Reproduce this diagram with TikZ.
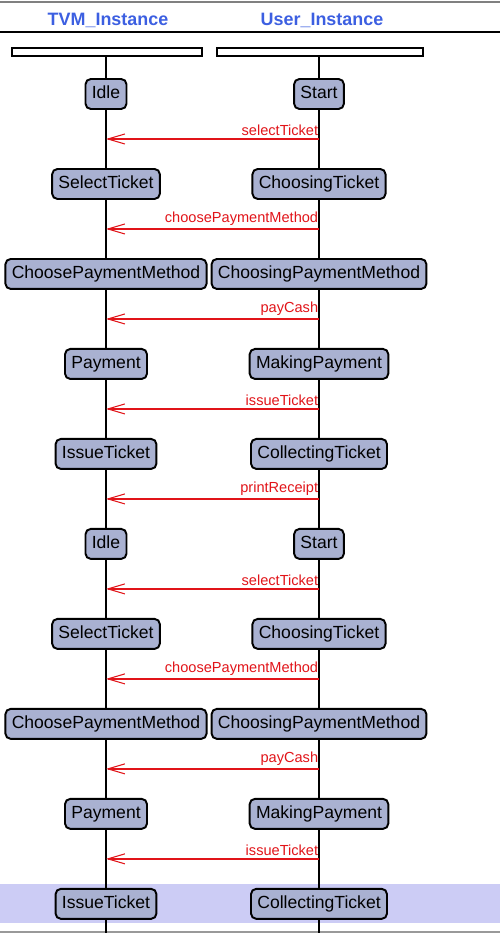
\documentclass[tikz,border=0pt]{standalone}
\usepackage{fontspec}
\setmainfont{Liberation Sans}
\usetikzlibrary{positioning,calc,arrows.meta}

\definecolor{statefill}{RGB}{169,177,209}
\definecolor{msgred}{RGB}{225,20,25}
\definecolor{headblue}{RGB}{60,95,225}
\definecolor{selband}{RGB}{204,204,245}

\tikzset{
  state/.style={draw, rounded corners=3pt, fill=statefill, line width=1.1pt,
    minimum height=0.6cm, inner xsep=3.6pt, text height=7.5pt, text depth=2pt,
    font=\fontsize{10}{12}\selectfont},
  headbox/.style={draw, fill=white, line width=1.1pt, minimum height=0.16cm, inner sep=0pt},
  header/.style={text=headblue, font=\fontsize{10.2}{12}\selectfont\bfseries},
  lifeline/.style={line width=1.1pt},
  msg/.style={draw=msgred, line width=1pt,
    -{Straight Barb[length=3.4mm,width=2mm,line width=0.6pt]}},
  msglabel/.style={text=msgred, font=\fontsize{8.3}{10}\selectfont,
    anchor=south east, inner xsep=0pt, inner ysep=1.5pt},
}

\begin{document}
\begin{tikzpicture}[x=0.02cm, y=-0.02cm, node distance=1.8cm, on grid]
 \useasboundingbox (0,0) rectangle (500,933);
 % frame
 \fill[selband] (0,884) rectangle (500,923);
 \draw[gray, line width=1pt] (0,2) -- (500,2);
 \draw[gray!80, line width=0.8pt] (0,932) -- (500,932);
 \draw[line width=0.7pt] (0,32) -- (500,32);
 \node[header] (tvmtitle) at (108,20) {TVM\_Instance};
 \node[header] (usertitle) at (322,20) {User\_Instance};
 \node[headbox, minimum width=3.8cm] (tvmhead) at (107,52) {};
 \node[headbox, minimum width=4.12cm] (userhead) at (320,52) {};
 \coordinate (tvmtop) at (106,56);
 \coordinate (usertop) at (319,56);
 \coordinate (tvmend) at (106,933);
 \coordinate (userend) at (319,933);
 \draw[lifeline] (tvmtop) -- (tvmend);
 \draw[lifeline] (usertop) -- (userend);
 %
 \node[state] (idle1) at (106,94) {Idle};
 \node[state, below=of idle1] (select1) {SelectTicket};
 \node[state, below=of select1] (choose1) {ChoosePaymentMethod};
 \node[state, below=of choose1] (payment1) {Payment};
 \node[state, below=of payment1] (issue1) {IssueTicket};
 \node[state, below=of issue1] (idle2) {Idle};
 \node[state, below=of idle2] (select2) {SelectTicket};
 \node[state, below=of select2] (choose2) {ChoosePaymentMethod};
 \node[state, below=of choose2] (payment2) {Payment};
 \node[state, below=of payment2] (issue2) {IssueTicket};
 %
 \node[state] (start1) at (idle1 -| usertop) {Start};
 \node[state] (choosing1) at (select1 -| usertop) {ChoosingTicket};
 \node[state] (choosingpay1) at (choose1 -| usertop) {ChoosingPaymentMethod};
 \node[state] (making1) at (payment1 -| usertop) {MakingPayment};
 \node[state] (collect1) at (issue1 -| usertop) {CollectingTicket};
 \node[state] (start2) at (idle2 -| usertop) {Start};
 \node[state] (choosing2) at (select2 -| usertop) {ChoosingTicket};
 \node[state] (choosingpay2) at (choose2 -| usertop) {ChoosingPaymentMethod};
 \node[state] (making2) at (payment2 -| usertop) {MakingPayment};
 \node[state] (collect2) at (issue2 -| usertop) {CollectingTicket};
 %
 \coordinate (m1) at ($(idle1)!0.5!(select1)$);
 \coordinate (m2) at ($(select1)!0.5!(choose1)$);
 \coordinate (m3) at ($(choose1)!0.5!(payment1)$);
 \coordinate (m4) at ($(payment1)!0.5!(issue1)$);
 \coordinate (m5) at ($(issue1)!0.5!(idle2)$);
 \coordinate (m6) at ($(idle2)!0.5!(select2)$);
 \coordinate (m7) at ($(select2)!0.5!(choose2)$);
 \coordinate (m8) at ($(choose2)!0.5!(payment2)$);
 \coordinate (m9) at ($(payment2)!0.5!(issue2)$);
 \draw[msg] (m1 -| usertop) -- node[msglabel, pos=0] {selectTicket} (m1);
 \draw[msg] (m2 -| usertop) -- node[msglabel, pos=0] {choosePaymentMethod} (m2);
 \draw[msg] (m3 -| usertop) -- node[msglabel, pos=0] {payCash} (m3);
 \draw[msg] (m4 -| usertop) -- node[msglabel, pos=0] {issueTicket} (m4);
 \draw[msg] (m5 -| usertop) -- node[msglabel, pos=0] {printReceipt} (m5);
 \draw[msg] (m6 -| usertop) -- node[msglabel, pos=0] {selectTicket} (m6);
 \draw[msg] (m7 -| usertop) -- node[msglabel, pos=0] {choosePaymentMethod} (m7);
 \draw[msg] (m8 -| usertop) -- node[msglabel, pos=0] {payCash} (m8);
 \draw[msg] (m9 -| usertop) -- node[msglabel, pos=0] {issueTicket} (m9);
\end{tikzpicture}
\end{document}
